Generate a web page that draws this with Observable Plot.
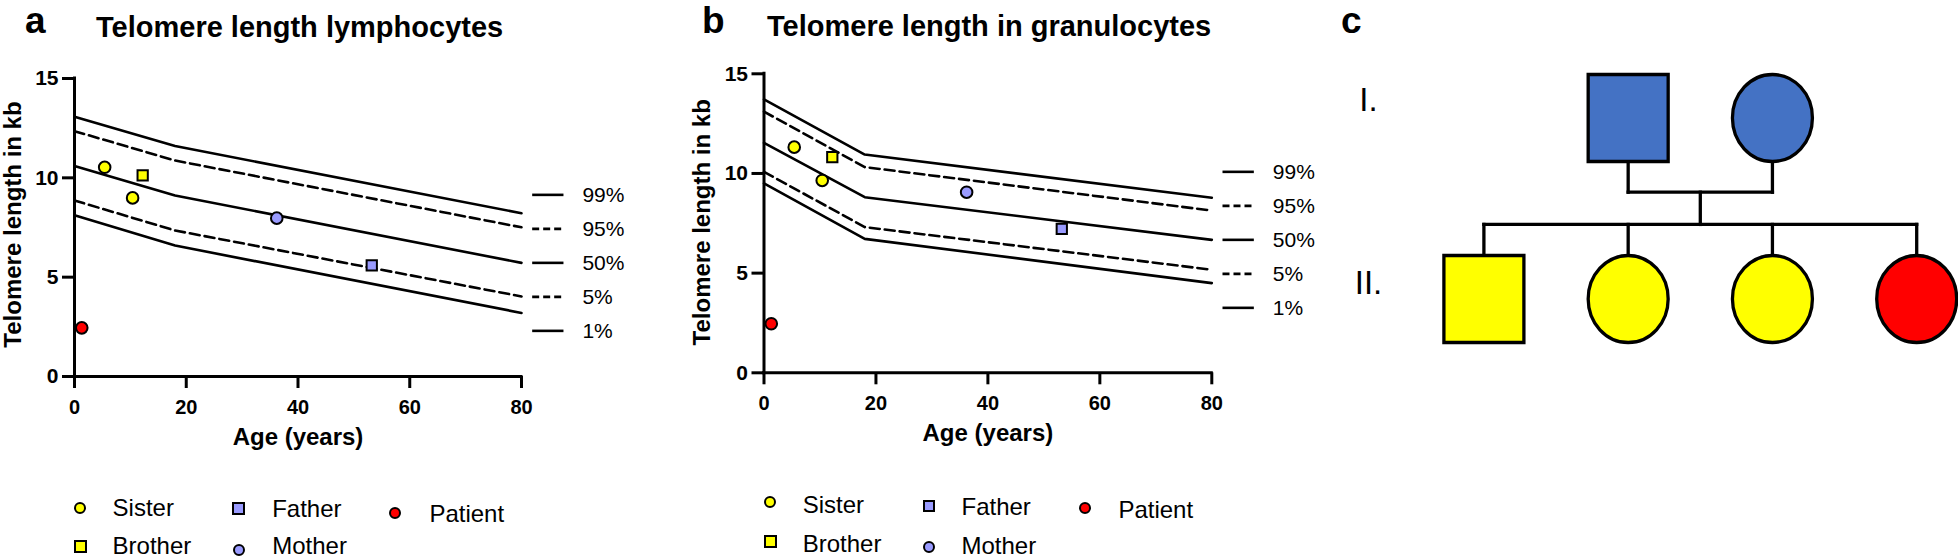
<!DOCTYPE html>
<html>
<head>
<meta charset="utf-8">
<script src="https://cdn.jsdelivr.net/npm/d3@7"></script>
<script src="https://cdn.jsdelivr.net/npm/@observablehq/plot@0.6"></script>
<style>
  html, body { margin: 0; padding: 0; background: #fff; }
  #page { position: relative; width: 1958px; height: 560px; overflow: hidden; background: #fff;
          font-family: "Liberation Sans", Arial, sans-serif; color: #000; }
  .abs { position: absolute; line-height: 0.75; white-space: nowrap; }
  .bold { font-weight: bold; }
  .mk { position: absolute; box-sizing: border-box; border: 2px solid #000; }
</style>
</head>
<body>
<div id="page"></div>
<script>
// ---------------- DATA ----------------
// family members measured (same ages in both panels)
const members = ["Patient", "Sister", "Sister", "Brother", "Mother", "Father"];
const ages = [1.3, 5.4, 10.4, 12.2, 36.2, 53.2];
const lymphocyteKb = [2.45, 10.53, 8.99, 10.12, 7.97, 5.59];
const granulocyteKb = [2.46, 11.32, 9.65, 10.82, 9.06, 7.22];

// reference percentile curves (age breakpoints)
const refAges = [0, 18, 80];
const percentiles = ["99%", "95%", "50%", "5%", "1%"];
const lymph99 = [13.08, 11.6, 8.22];
const lymph95 = [12.35, 10.87, 7.51];
const lymph50 = [10.6, 9.11, 5.72];
const lymph5 = [8.86, 7.35, 4.03];
const lymph1 = [8.12, 6.59, 3.2];
const gran99 = [13.72, 10.95, 8.78];
const gran95 = [13.1, 10.32, 8.14];
const gran50 = [11.53, 8.81, 6.67];
const gran5 = [10.08, 7.31, 5.17];
const gran1 = [9.5, 6.72, 4.5];

const xTicks = [0, 20, 40, 60, 80];
const yTicks = [0, 5, 10, 15];

// legend categories
const legendMembers = ["Sister", "Brother", "Father", "Mother", "Patient"];
const memberColors = ["#FFFF00", "#FFFF00", "#9A9BFF", "#9A9BFF", "#FF0000"];
const memberSymbols = ["circle", "square", "square", "circle", "circle"];

// pedigree
const pedMembers = ["Father", "Mother", "Brother", "Sister", "Sister", "Patient"];
const pedGeneration = [0, 0, 1, 1, 1, 1];
const pedOrder = [1, 2, 0, 1, 2, 3];
const pedSex = ["M", "F", "M", "F", "F", "F"];
const pedStatus = ["parent", "parent", "sibling", "sibling", "sibling", "patient"];
const statusDomain = ["parent", "sibling", "patient"];
const statusColors = ["#4472C4", "#FFFF00", "#FF0000"];
const generationLabels = ["I.", "II."];

// ---------------- HELPERS ----------------
const page = document.getElementById("page");
const FONT = "Liberation Sans, Arial, sans-serif";

function addText(txt, left, baseline, size, bold, extra) {
  const d = document.createElement("div");
  d.className = "abs" + (bold ? " bold" : "");
  d.textContent = txt;
  d.style.left = left + "px";
  d.style.top = (baseline - 0.7215 * size) + "px";
  d.style.fontSize = size + "px";
  if (extra) Object.assign(d.style, extra);
  page.appendChild(d);
  return d;
}

function place(el, left, top) {
  const w = document.createElement("div");
  w.style.position = "absolute";
  w.style.left = left + "px";
  w.style.top = top + "px";
  w.appendChild(el);
  page.appendChild(w);
}

function chartPanel(cfg) {
  const pts = ages.map((a, i) => ({age: a, kb: cfg.values[i], member: members[i]}));
  const ref = [];
  percentiles.forEach((p, j) => refAges.forEach((a, i) => ref.push({age: a, kb: cfg.curves[j][i], pct: p})));
  const isDashed = p => p === "95%" || p === "5%";
  const end50 = cfg.curves[2][refAges.length - 1];
  const legendMarks = percentiles.flatMap((p, j) => {
    const o = {x1: 82, x2: 87.6, dy: (j - 2) * 34, stroke: "#000", strokeWidth: 2.6};
    if (isDashed(p)) o.strokeDasharray = "7,4";
    return [
      Plot.ruleY([end50], o),
      Plot.text([p], {x: 90.9, y: end50, dy: (j - 2) * 34, text: d => d, textAnchor: "start",
                      fontFamily: FONT, fontSize: 21, fontWeight: "normal", fill: "#000"})
    ];
  });
  return Plot.plot({
    width: cfg.width, height: cfg.height,
    marginLeft: cfg.ml, marginRight: cfg.mr, marginTop: cfg.mt, marginBottom: cfg.mb,
    style: {fontFamily: FONT, fontSize: "20px", background: "transparent", overflow: "visible", color: "#000"},
    x: {domain: [0, 80]},
    y: {domain: [0, 15]},
    color: {domain: legendMembers, range: memberColors},
    symbol: {domain: legendMembers, range: memberSymbols},
    marks: [
      Plot.line(ref.filter(d => !isDashed(d.pct)), {x: "age", y: "kb", z: "pct", stroke: "#000", strokeWidth: 2.6}),
      Plot.line(ref.filter(d => isDashed(d.pct)), {x: "age", y: "kb", z: "pct", stroke: "#000", strokeWidth: 2.6, strokeDasharray: "10,5"}),
      Plot.ruleX([0], {stroke: "#000", strokeWidth: 3, strokeLinecap: "square"}),
      Plot.ruleY([0], {stroke: "#000", strokeWidth: 3, strokeLinecap: "square"}),
      Plot.axisX({ticks: xTicks, tickSize: 12, tickPadding: 11, strokeWidth: 3, fontFamily: FONT, fontSize: 20, fontWeight: "bold", label: null, fill: "#000"}),
      Plot.axisY({ticks: yTicks, tickSize: 12, tickPadding: 4, strokeWidth: 3, fontFamily: FONT, fontSize: 21, fontWeight: "bold", label: null, fill: "#000"}),
      Plot.text(["Telomere length in kb"], {frameAnchor: "left", textAnchor: "middle", rotate: -90, dx: cfg.ytdx, dy: cfg.ytdy, text: d => d,
                fontFamily: FONT, fontSize: 24, fontWeight: "bold", fill: "#000"}),
      Plot.text(["Age (years)"], {frameAnchor: "bottom", textAnchor: "middle", dy: cfg.xtdy, text: d => d,
                fontFamily: FONT, fontSize: 24, fontWeight: "bold", fill: "#000"}),
      ...legendMarks,
      Plot.dot(pts, {x: "age", y: "kb", symbol: "member", fill: "member", stroke: "#000", strokeWidth: 2, r: 5.8})
    ]
  });
}

function memberLegend(items) {
  items.forEach(it => {
    const i = legendMembers.indexOf(it.name);
    const m = document.createElement("div");
    m.className = "mk";
    const s = memberSymbols[i] === "circle" ? 12 : 12.5;
    m.style.width = s + "px"; m.style.height = s + "px";
    m.style.left = (it.cx - s / 2) + "px"; m.style.top = (it.cy - s / 2) + "px";
    m.style.background = memberColors[i];
    if (memberSymbols[i] === "circle") m.style.borderRadius = "50%";
    page.appendChild(m);
    addText(it.name, it.tx - 1, it.ty, 24, false);
  });
}

// ---------------- PANEL A ----------------
addText("a", 25, 33.5, 37, true);
addText("Telomere length lymphocytes", 96, 37.5, 29, true);
place(chartPanel({
  values: lymphocyteKb, curves: [lymph99, lymph95, lymph50, lymph5, lymph1],
  width: 640, height: 470, ml: 74, mr: 119, mt: 78, mb: 94,
  ytdx: -61, ytdy: -3, xtdy: 68
}), 0, 0);
memberLegend([
  {name: "Sister", cx: 80.4, cy: 507.7, tx: 113.6, ty: 516},
  {name: "Father", cx: 238.6, cy: 508.3, tx: 273.2, ty: 517},
  {name: "Patient", cx: 395.4, cy: 512.7, tx: 430.4, ty: 522.7},
  {name: "Brother", cx: 80.4, cy: 546.7, tx: 113.6, ty: 554},
  {name: "Mother", cx: 238.6, cy: 549.5, tx: 273.2, ty: 554.5}
]);

// ---------------- PANEL B ----------------
addText("b", 702, 33.5, 37, true);
addText("Telomere length in granulocytes", 767, 36.7, 29, true);
place(chartPanel({
  values: granulocyteKb, curves: [gran99, gran95, gran50, gran5, gran1],
  width: 640, height: 470, ml: 73.5, mr: 118.7, mt: 73.3, mb: 97.7,
  ytdx: -61.3, ytdy: -1, xtdy: 67.7
}), 690, 0);
memberLegend([
  {name: "Sister", cx: 770.4, cy: 501.7, tx: 803.7, ty: 513},
  {name: "Father", cx: 929.2, cy: 506, tx: 962.5, ty: 515},
  {name: "Patient", cx: 1085, cy: 508.3, tx: 1119.4, ty: 518},
  {name: "Brother", cx: 770.4, cy: 541.7, tx: 803.7, ty: 552},
  {name: "Mother", cx: 929.2, cy: 546.7, tx: 962.5, ty: 554.5}
]);

// ---------------- PANEL C (pedigree) ----------------
addText("c", 1341, 33.5, 37, true);
const HW = 40, HH = 43.5;
const squareSym = {draw(ctx) { ctx.moveTo(-HW, -HH); ctx.lineTo(HW, -HH); ctx.lineTo(HW, HH); ctx.lineTo(-HW, HH); ctx.closePath(); }};
const ellipseSym = {draw(ctx) {
  const rx = HW, ry = HH, k = 0.5523;
  ctx.moveTo(rx, 0);
  ctx.bezierCurveTo(rx, ry * k, rx * k, ry, 0, ry);
  ctx.bezierCurveTo(-rx * k, ry, -rx, ry * k, -rx, 0);
  ctx.bezierCurveTo(-rx, -ry * k, -rx * k, -ry, 0, -ry);
  ctx.bezierCurveTo(rx * k, -ry, rx, -ry * k, rx, 0);
  ctx.closePath();
}};
const ped = pedMembers.map((m, i) => ({member: m, gen: pedGeneration[i], pos: pedOrder[i], sex: pedSex[i], status: pedStatus[i]}));
const halfH = 0.24, marriageY = 0.41, sibshipY = 0.588, childTop = 1 - halfH;
const parents = ped.filter(d => d.gen === 0);
const children = ped.filter(d => d.gen === 1);
const pMid = d3.mean(parents, d => d.pos);
const segs = [
  ...parents.map(d => ({x1: d.pos, y1: d.gen + halfH, x2: d.pos, y2: marriageY})),
  {x1: d3.min(parents, d => d.pos), y1: marriageY, x2: d3.max(parents, d => d.pos), y2: marriageY},
  {x1: pMid, y1: marriageY, x2: pMid, y2: sibshipY},
  {x1: d3.min(children, d => d.pos), y1: sibshipY, x2: d3.max(children, d => d.pos), y2: sibshipY},
  ...children.map(d => ({x1: d.pos, y1: sibshipY, x2: d.pos, y2: childTop}))
];
place(Plot.plot({
  width: 628, height: 400,
  marginLeft: 153.4, marginRight: 41.8, marginTop: 117.5, marginBottom: 101.5,
  style: {fontFamily: FONT, background: "transparent", overflow: "visible"},
  x: {domain: [0, 3], axis: null},
  y: {domain: [0, 1], reverse: true, axis: null},
  color: {domain: statusDomain, range: statusColors},
  marks: [
    Plot.link(segs, {x1: "x1", y1: "y1", x2: "x2", y2: "y2", stroke: "#000", strokeWidth: 3.3, strokeLinecap: "square"}),
    Plot.dot(ped.filter(d => d.sex === "M"), {x: "pos", y: "gen", fill: "status", symbol: squareSym, stroke: "#000", strokeWidth: 3.3, r: 10}),
    Plot.dot(ped.filter(d => d.sex === "F"), {x: "pos", y: "gen", fill: "status", symbol: ellipseSym, stroke: "#000", strokeWidth: 3.3, r: 10})
  ]
}), 1330, 0);
addText(generationLabels[0], 1368.5, 112, 33, false, {transform: "translateX(-50%)"});
addText(generationLabels[1], 1368.5, 295, 33, false, {transform: "translateX(-50%)"});
</script>
</body>
</html>
